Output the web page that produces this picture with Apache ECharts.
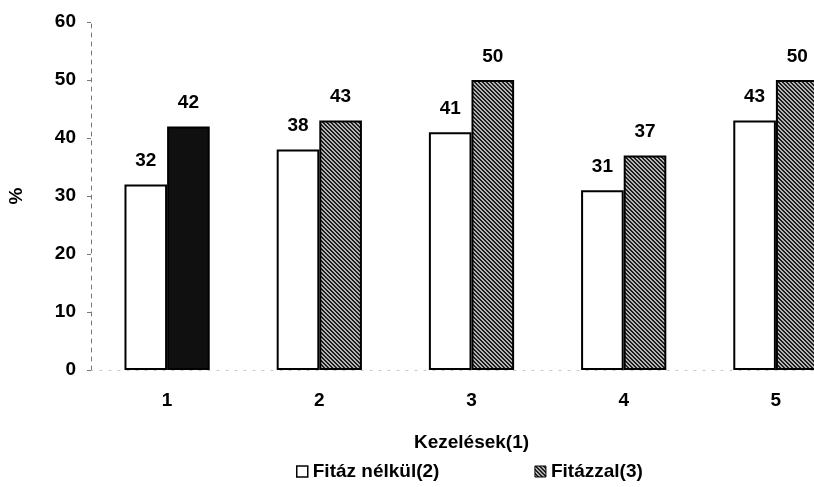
<!DOCTYPE html>
<html>
<head>
<meta charset="utf-8">
<script src="https://cdn.jsdelivr.net/npm/echarts@6/dist/echarts.min.js"></script>
<style>
  html, body { margin: 0; padding: 0; background: #fff; }
  #chart { width: 814px; height: 487px; }
</style>
</head>
<body>
<div id="chart"></div>
<script>
// Treatment groups and measured percentages
const categories = ['1', '2', '3', '4', '5'];
const withoutPhytase = [32, 38, 41, 31, 43];
const withPhytase = [42, 43, 50, 37, 50];
const yTicks = { min: 0, max: 60, interval: 10 };
const seriesNames = ['Fitáz nélkül(2)', 'Fitázzal(3)'];

// Diagonal hatch texture for the phytase bars
function hatch(bg, fg) {
  const c = document.createElement('canvas');
  c.width = 4; c.height = 4;
  const g = c.getContext('2d');
  g.fillStyle = bg; g.fillRect(0, 0, 4, 4);
  g.fillStyle = fg;
  for (let i = 0; i < 4; i++) { g.fillRect(i, i, 1, 1); g.fillRect((i + 1) % 4, i, 1, 1); }
  return { image: c, repeat: 'repeat' };
}
const greyHatch = hatch('#b4b4b4', '#1e1e1e');
const darkFill = '#101010';

const font = 'Arial, "Liberation Sans", sans-serif';
const txt = { fontFamily: font, fontSize: 19, fontWeight: 'bold', color: '#000' };
const chart = echarts.init(document.getElementById('chart'), null, { renderer: 'canvas' });

chart.setOption({
  animation: false,
  backgroundColor: '#ffffff',
  // the last category runs past the right edge of the page
  grid: { left: 91, width: 761, top: 22, height: 348, containLabel: false, outerBoundsMode: 'none' },
  legend: {
    top: 457,
    left: 291,
    itemGap: 95,
    itemWidth: 11,
    itemHeight: 11,
    textStyle: Object.assign({}, txt),
    data: [
      { name: seriesNames[0], icon: 'rect', itemStyle: { color: '#fff', borderColor: '#000', borderWidth: 1.5 } },
      { name: seriesNames[1], icon: 'rect', itemStyle: { color: greyHatch, borderColor: '#000', borderWidth: 1 } }
    ]
  },
  xAxis: {
    type: 'category',
    data: categories,
    name: 'Kezelések(1)',
    nameLocation: 'middle',
    nameGap: 63,
    nameTextStyle: Object.assign({}, txt),
    axisLine: { show: true, lineStyle: { color: '#c8c8c8', width: 1, type: [2, 7] } },
    axisTick: { show: false },
    axisLabel: Object.assign({ margin: 21 }, txt)
  },
  yAxis: {
    type: 'value',
    min: yTicks.min,
    max: yTicks.max,
    interval: yTicks.interval,
    name: '%',
    nameLocation: 'middle',
    nameRotate: 90,
    nameGap: 65,
    nameTextStyle: Object.assign({}, txt),
    splitLine: { show: false },
    axisLine: { show: true, lineStyle: { color: '#777', width: 1, type: [4, 5] } },
    axisTick: { show: true, length: 4, lineStyle: { color: '#777' } },
    axisLabel: Object.assign({ margin: 15 }, txt)
  },
  series: [
    {
      name: seriesNames[0],
      type: 'bar',
      data: withoutPhytase,
      barGap: '0%',
      barCategoryGap: '44%',
      itemStyle: { color: '#fff', borderColor: '#000', borderWidth: 2 },
      label: Object.assign({ show: true, position: 'top', distance: 14 }, txt)
    },
    {
      name: seriesNames[1],
      type: 'bar',
      data: withPhytase.map((v, i) => ({ value: v, itemStyle: { color: i === 0 ? darkFill : greyHatch } })),
      itemStyle: { color: greyHatch, borderColor: '#000', borderWidth: 2 },
      label: Object.assign({ show: true, position: 'top', distance: 14 }, txt)
    }
  ]
});
</script>
</body>
</html>
